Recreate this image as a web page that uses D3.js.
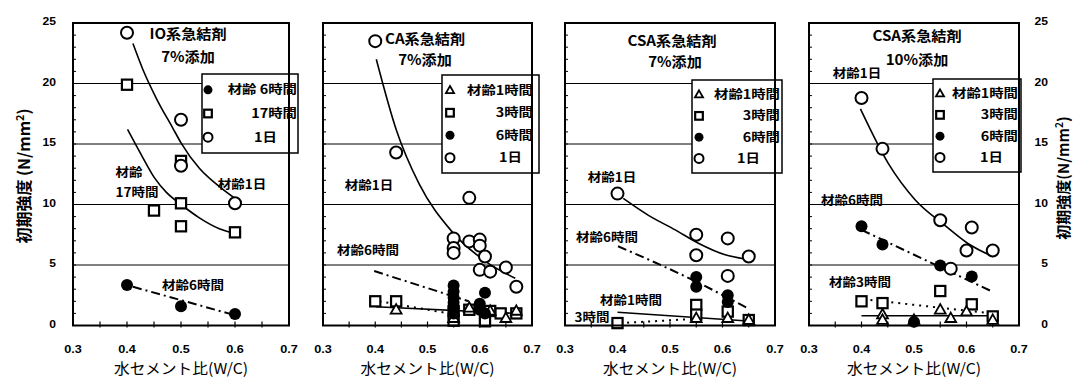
<!DOCTYPE html>
<html>
<head>
<meta charset="utf-8">
<script src="https://cdn.jsdelivr.net/npm/d3@7"></script>
<style>
  body { margin: 0; background: #fff; }
  svg { display: block; }
</style>
</head>
<body>
<svg id="chart" width="1075" height="379"></svg>
<script>
// ---------- tick values ----------
const xTickLabels = [0.3, 0.4, 0.5, 0.6, 0.7];
const yTickLabels = [0, 5, 10, 15, 20, 25];
const gridValues = [5, 10, 15, 20];

// ---------- IO系急結剤 7%添加 ----------
const io7_h6  = [[0.40, 3.35], [0.50, 1.6], [0.60, 0.95]];
const io7_h17 = [[0.40, 19.9], [0.45, 9.5], [0.50, 13.6], [0.50, 10.1], [0.50, 8.2], [0.60, 7.7]];
const io7_d1  = [[0.40, 24.2], [0.50, 17.0], [0.50, 13.2], [0.60, 10.1]];
const io7_fit_d1  = [[0.411, 23.3], [0.429, 21.2], [0.454, 18.8], [0.485, 16.3], [0.50, 15.1], [0.534, 13.0], [0.565, 11.7], [0.60, 10.5]];
const io7_fit_h17 = [[0.401, 16.2], [0.429, 13.9], [0.451, 12.2], [0.473, 11.0], [0.50, 10.0], [0.534, 8.9], [0.571, 8.0], [0.60, 7.6]];
const io7_fit_h6  = [[0.411, 3.2], [0.596, 0.9]];

// ---------- CA系急結剤 7%添加 ----------
const ca7_h1 = [[0.44, 1.3], [0.55, 0.6], [0.58, 1.45], [0.62, 1.2], [0.65, 0.6], [0.67, 1.2]];
const ca7_h3 = [[0.40, 2.0], [0.44, 2.0], [0.55, 1.2], [0.55, 0.4], [0.58, 1.3], [0.61, 0.35], [0.62, 1.2], [0.64, 1.0], [0.67, 1.0]];
const ca7_h6 = [[0.55, 3.3], [0.55, 2.8], [0.55, 2.3], [0.55, 1.9], [0.55, 1.45], [0.55, 1.0],
                [0.60, 1.8], [0.60, 1.3], [0.61, 2.7], [0.61, 1.0]];
const ca7_d1 = [[0.40, 23.5], [0.44, 14.3], [0.58, 10.55], [0.55, 7.2], [0.55, 6.4], [0.55, 6.0], [0.58, 6.95],
                [0.60, 7.1], [0.60, 6.6], [0.61, 5.7], [0.60, 4.6], [0.62, 4.45], [0.65, 4.8], [0.67, 3.2]];
const ca7_fit_d1 = [[0.402, 22.0], [0.44, 16.2], [0.484, 11.7], [0.546, 7.8], [0.611, 5.3], [0.668, 3.9]];
const ca7_fit_h6 = [[0.398, 4.5], [0.579, 2.0]];
const ca7_fit_h3 = [[0.408, 2.0], [0.541, 1.0]];
const ca7_fit_h1 = [[0.401, 1.55], [0.668, 1.0]];

// ---------- CSA系急結剤 7%添加 ----------
const csa7_h1 = [[0.55, 0.6], [0.61, 0.6], [0.65, 0.45]];
const csa7_h3 = [[0.40, 0.2], [0.55, 1.7], [0.55, 0.9], [0.61, 1.15], [0.65, 0.45]];
const csa7_h6 = [[0.55, 4.0], [0.55, 3.2], [0.61, 2.5], [0.61, 1.95]];
const csa7_d1 = [[0.40, 10.9], [0.55, 7.5], [0.61, 7.2], [0.55, 5.8], [0.65, 5.7], [0.61, 4.1]];
const csa7_fit_d1 = [[0.411, 10.5], [0.459, 9.1], [0.51, 7.9], [0.554, 6.8], [0.605, 5.85], [0.643, 5.5]];
const csa7_fit_h6 = [[0.401, 6.55], [0.551, 3.6], [0.649, 1.4]];
const csa7_fit_h3 = [[0.405, 0.2], [0.55, 0.55]];
const csa7_fit_h1 = [[0.40, 1.1], [0.655, 0.35]];

// ---------- CSA系急結剤 10%添加 ----------
const csa10_h1 = [[0.44, 0.9], [0.44, 0.45], [0.50, 0.45], [0.55, 1.3], [0.57, 0.6], [0.60, 1.15], [0.65, 0.45]];
const csa10_h3 = [[0.40, 2.0], [0.44, 1.85], [0.55, 2.85], [0.61, 1.75], [0.65, 0.75]];
const csa10_h6 = [[0.40, 8.2], [0.44, 6.7], [0.55, 4.95], [0.61, 4.05], [0.50, 0.3]];
const csa10_d1 = [[0.40, 18.8], [0.44, 14.6], [0.55, 8.7], [0.61, 8.1], [0.60, 6.2], [0.65, 6.2], [0.57, 4.7]];
const csa10_fit_d1 = [[0.398, 17.9], [0.451, 13.4], [0.502, 10.4], [0.558, 8.3], [0.602, 6.8], [0.65, 5.7]];
const csa10_fit_h6 = [[0.40, 7.9], [0.649, 2.8]];
const csa10_fit_h3 = [[0.417, 2.1], [0.65, 1.0]];
const csa10_fit_h1 = [[0.40, 0.8], [0.65, 0.8]];

// ---------- panel layout ----------
const FONT = "'Liberation Sans','Noto Sans CJK JP',sans-serif";
const JFONT = "'Noto Sans CJK JP','Liberation Sans',sans-serif";
const TOP = 23, BOTTOM = 325.5;

const panels = [
  {
    x0: 73, x1: 289,
    fits: [
      { data: io7_fit_d1, style: "solid" },
      { data: io7_fit_h17, style: "solid" },
      { data: io7_fit_h6, style: "dashdot" }
    ],
    marks: [
      { data: io7_h17, sym: "square" },
      { data: io7_h6, sym: "filled" },
      { data: io7_d1, sym: "open" }
    ],
    titles: [["IO系急結剤", 188, 34, "middle"], ["7%添加", 188, 57, "middle"]],
    notes: [["材齢", 129, 172], ["17時間", 137, 192], ["材齢1日", 242, 184], ["材齢6時間", 193, 285]],
    legend: { box: [202, 74, 298, 153], symX: 208, rows: [
      ["filled", "材齢 6時間", 297], ["square", "17時間", 297], ["open", "1日", 277]
    ]}
  },
  {
    x0: 323, x1: 532,
    fits: [
      { data: ca7_fit_d1, style: "solid" },
      { data: ca7_fit_h6, style: "dashdot" },
      { data: ca7_fit_h3, style: "dotted" },
      { data: ca7_fit_h1, style: "solid" }
    ],
    marks: [
      { data: ca7_h3, sym: "square" },
      { data: ca7_h1, sym: "triangle" },
      { data: ca7_h6, sym: "filled" },
      { data: ca7_d1, sym: "open" }
    ],
    titles: [["CA系急結剤", 385, 39, "start"], ["7%添加", 425, 60, "middle"]],
    notes: [["材齢1日", 369, 185], ["材齢6時間", 368, 250]],
    legend: { box: [442, 75, 539, 173], symX: 450, rows: [
      ["triangle", "材齢1時間", 533], ["square", "3時間", 533], ["filled", "6時間", 533], ["open", "1日", 522]
    ]}
  },
  {
    x0: 565, x1: 775,
    fits: [
      { data: csa7_fit_d1, style: "solid" },
      { data: csa7_fit_h6, style: "dashdot" },
      { data: csa7_fit_h3, style: "dotted" },
      { data: csa7_fit_h1, style: "solid" }
    ],
    marks: [
      { data: csa7_h3, sym: "square" },
      { data: csa7_h1, sym: "triangle" },
      { data: csa7_h6, sym: "filled" },
      { data: csa7_d1, sym: "open" }
    ],
    titles: [["CSA系急結剤", 672, 41, "middle"], ["7%添加", 675, 62, "middle"]],
    notes: [["材齢1日", 612, 177], ["材齢6時間", 607, 237], ["材齢1時間", 631, 300], ["3時間", 592, 317]],
    legend: { box: [692, 80, 782, 173], symX: 699, rows: [
      ["triangle", "材齢1時間", 780], ["square", "3時間", 780], ["filled", "6時間", 780], ["open", "1日", 760]
    ]}
  },
  {
    x0: 809, x1: 1019,
    fits: [
      { data: csa10_fit_d1, style: "solid" },
      { data: csa10_fit_h6, style: "dashdot" },
      { data: csa10_fit_h3, style: "dotted" },
      { data: csa10_fit_h1, style: "solid" }
    ],
    marks: [
      { data: csa10_h3, sym: "square" },
      { data: csa10_h1, sym: "triangle" },
      { data: csa10_h6, sym: "filled" },
      { data: csa10_d1, sym: "open" }
    ],
    titles: [["CSA系急結剤", 917, 36, "middle"], ["10%添加", 917, 60, "middle"]],
    notes: [["材齢1日", 857, 73], ["材齢6時間", 852, 200], ["材齢3時間", 860, 282]],
    legend: { box: [933, 79, 1021, 172], symX: 940, rows: [
      ["triangle", "材齢1時間", 1018], ["square", "3時間", 1018], ["filled", "6時間", 1018], ["open", "1日", 1003]
    ]}
  }
];

const svg = d3.select("#chart");
const y = d3.scaleLinear().domain([0, 25]).range([BOTTOM, TOP]);

// widen glyphs horizontally like the printed figure
function stretch(sel, k) {
  sel.each(function () {
    const w = this.getComputedTextLength();
    this.setAttribute("textLength", (w * k).toFixed(1));
    this.setAttribute("lengthAdjust", "spacingAndGlyphs");
  });
}

function drawSymbol(g, sym, cx, cy, size) {
  if (sym === "open") {
    g.append("circle").attr("cx", cx).attr("cy", cy).attr("r", size)
      .attr("fill", "#fff").attr("stroke", "#000").attr("stroke-width", 2);
  } else if (sym === "filled") {
    g.append("circle").attr("cx", cx).attr("cy", cy).attr("r", size).attr("fill", "#000");
  } else if (sym === "square") {
    const s = size * 1.7;
    g.append("rect").attr("x", cx - s / 2).attr("y", cy - s / 2).attr("width", s).attr("height", s)
      .attr("fill", "#fff").attr("stroke", "#000").attr("stroke-width", 2.2);
  } else if (sym === "triangle") {
    const s = size * 1.8;
    const h = s * 0.87;
    g.append("path")
      .attr("d", `M${cx},${cy - h * 0.6}L${cx + s / 2},${cy + h * 0.4}L${cx - s / 2},${cy + h * 0.4}Z`)
      .attr("fill", "#fff").attr("stroke", "#000").attr("stroke-width", 1.8);
  }
}

const dashes = { solid: null, dashdot: "9,4,2,4", dotted: "2,5" };

panels.forEach((p) => {
  const x = d3.scaleLinear().domain([0.3, 0.7]).range([p.x0, p.x1]);
  const g = svg.append("g");

  // horizontal grid lines
  g.selectAll("line.grid").data(gridValues).join("line")
    .attr("x1", p.x0).attr("x2", p.x1)
    .attr("y1", d => y(d)).attr("y2", d => y(d))
    .attr("stroke", "#000").attr("stroke-width", 1);

  // minor ticks on left edge (every unit)
  g.selectAll("line.ytick").data(d3.range(1, 25)).join("line")
    .attr("x1", p.x0).attr("x2", p.x0 + 3)
    .attr("y1", d => y(d)).attr("y2", d => y(d))
    .attr("stroke", "#000").attr("stroke-width", 1);

  // ticks on bottom edge (every 0.05)
  g.selectAll("line.xtick").data(d3.range(0.35, 0.7, 0.05)).join("line")
    .attr("x1", d => x(d)).attr("x2", d => x(d))
    .attr("y1", BOTTOM - 4).attr("y2", BOTTOM + 2)
    .attr("stroke", "#000").attr("stroke-width", 1.2);

  // fitted curves
  const line = d3.line().x(d => x(d[0])).y(d => y(d[1])).curve(d3.curveMonotoneX);
  p.fits.forEach(f => {
    g.append("path").attr("d", line(f.data))
      .attr("fill", "none").attr("stroke", "#000")
      .attr("stroke-width", f.style === "solid" ? 1.6 : 2)
      .attr("stroke-dasharray", dashes[f.style]);
  });

  // measured points
  p.marks.forEach(m => {
    m.data.forEach(d => drawSymbol(g, m.sym, x(d[0]), y(d[1]), 6));
  });

  // x tick labels
  const xl = g.selectAll("text.xl").data(xTickLabels).join("text")
    .attr("x", d => x(d)).attr("y", 353)
    .attr("text-anchor", "middle")
    .attr("font-family", FONT).attr("font-weight", "bold").attr("font-size", 11)
    .text(d => d.toFixed(1));
  stretch(xl, 1.15);

  // x axis title
  const xt = g.append("text")
    .attr("x", (p.x0 + p.x1) / 2).attr("y", 374)
    .attr("text-anchor", "middle")
    .attr("font-family", JFONT).attr("font-size", 15)
    .text("水セメント比(W/C)");
  stretch(xt, 1.05);

  // panel title lines
  p.titles.forEach(t => {
    const tt = g.append("text").attr("x", t[1]).attr("y", t[2] + 5)
      .attr("text-anchor", t[3])
      .attr("font-family", JFONT).attr("font-weight", "bold").attr("font-size", 14)
      .text(t[0]);
    stretch(tt, 1.08);
  });

  // annotations beside curves
  p.notes.forEach(t => {
    const tn = g.append("text").attr("x", t[1]).attr("y", t[2] + 4.5)
      .attr("text-anchor", "middle")
      .attr("font-family", JFONT).attr("font-weight", "bold").attr("font-size", 12.5)
      .text(t[0]);
    stretch(tn, 1.08);
  });

  // legend
  const L = p.legend;
  g.append("rect").attr("x", L.box[0]).attr("y", L.box[1])
    .attr("width", L.box[2] - L.box[0]).attr("height", L.box[3] - L.box[1])
    .attr("fill", "#fff").attr("stroke", "#000").attr("stroke-width", 1.5);
  const step = (L.box[3] - L.box[1] - 8) / L.rows.length;
  L.rows.forEach((r, k) => {
    const cy = L.box[1] + 4 + step * (k + 0.5);
    drawSymbol(g, r[0], L.symX, cy, 4.5);
    const lt = g.append("text").attr("x", r[2]).attr("y", cy + 4.5)
      .attr("text-anchor", "end")
      .attr("font-family", JFONT).attr("font-weight", "bold").attr("font-size", 12.5)
      .text(r[1]);
    stretch(lt, 1.15);
  });

  // frame
  g.append("rect").attr("x", p.x0).attr("y", TOP)
    .attr("width", p.x1 - p.x0).attr("height", BOTTOM - TOP)
    .attr("fill", "none").attr("stroke", "#000").attr("stroke-width", 2);
});

// y tick labels: left of the first panel and right of the last
const yl = svg.selectAll("text.yl").data(yTickLabels).join("text")
  .attr("x", 56).attr("y", d => y(d) + 2)
  .attr("text-anchor", "end")
  .attr("font-family", FONT).attr("font-weight", "bold").attr("font-size", 11)
  .text(d => d);
stretch(yl, 1.1);
const yr = svg.selectAll("text.yr").data(yTickLabels).join("text")
  .attr("x", 1048).attr("y", d => y(d) + 2)
  .attr("text-anchor", "end")
  .attr("font-family", FONT).attr("font-weight", "bold").attr("font-size", 11)
  .text(d => d);
stretch(yr, 1.1);

// y axis titles
function yTitle(xPos, yPos, spaced, size) {
  const t = svg.append("text")
    .attr("transform", `translate(${xPos},${yPos}) rotate(-90)`)
    .attr("text-anchor", "middle")
    .attr("font-family", JFONT).attr("font-weight", "bold").attr("font-size", size);
  t.append("tspan").text(spaced ? "初期強度 (N/mm" : "初期強度(N/mm");
  t.append("tspan").attr("dy", -6).attr("font-size", size * 0.68).text("2");
  t.append("tspan").attr("dy", 6).text(")");
}
yTitle(30, 176, true, 16);
yTitle(1069, 178, false, 15);
</script>
</body>
</html>
